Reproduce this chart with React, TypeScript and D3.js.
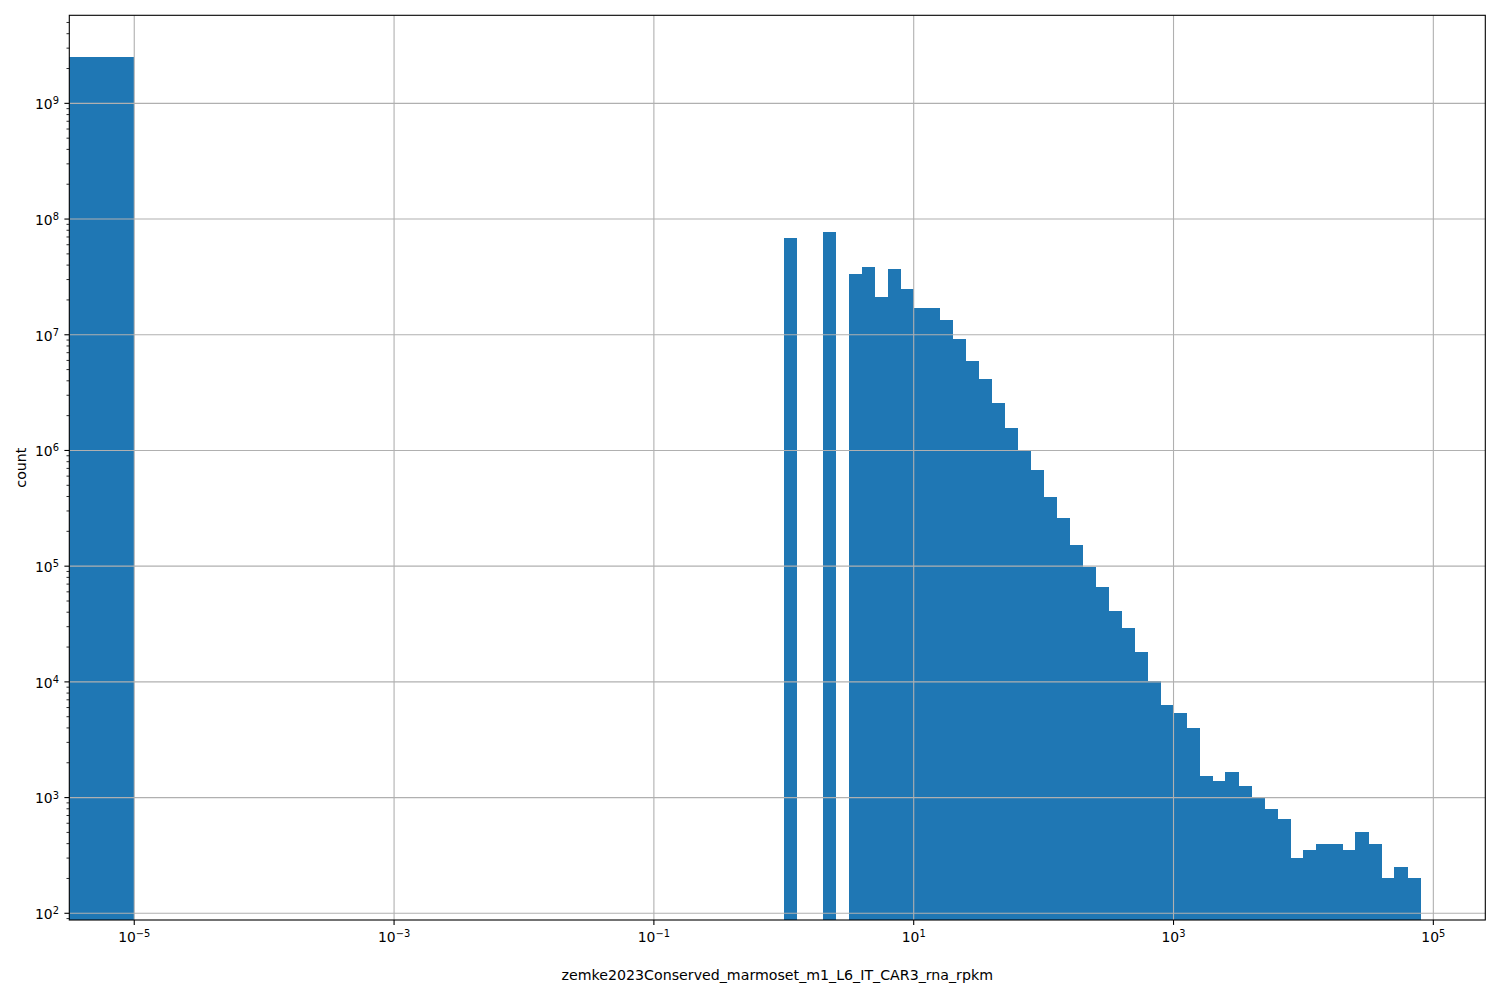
import React from "react";
import * as d3 from "d3";

// ---- data ----
const zeroBinUpper = 1e-5;
const zeroBinCount = 2.54e9;
const binLogWidth = 0.1;
const binLogLeft = [
  0.0, 0.3,
  0.5, 0.6, 0.7, 0.8, 0.9,
  1.0, 1.1, 1.2, 1.3, 1.4, 1.5, 1.6, 1.7, 1.8, 1.9,
  2.0, 2.1, 2.2, 2.3, 2.4, 2.5, 2.6, 2.7, 2.8, 2.9,
  3.0, 3.1, 3.2, 3.3, 3.4, 3.5, 3.6, 3.7, 3.8, 3.9,
  4.0, 4.1, 4.2, 4.3, 4.4, 4.5, 4.6, 4.7, 4.8,
];
const binCounts = [
  6.86e7, 7.73e7,
  3.35e7, 3.85e7, 2.12e7, 3.7e7, 2.48e7,
  1.7e7, 1.7e7, 1.34e7, 9.18e6, 5.93e6, 4.15e6, 2.57e6, 1.56e6, 9.95e5, 6.78e5,
  3.96e5, 2.61e5, 1.52e5, 9.9e4, 6.61e4, 4.1e4, 2.92e4, 1.81e4, 1.02e4, 6.31e3,
  5.38e3, 3.99e3, 1.54e3, 1.39e3, 1.66e3, 1.26e3, 990, 800, 650, 300,
  350, 400, 400, 350, 500, 400, 200, 250, 200,
];
const xTickExponents = [-5, -3, -1, 1, 3, 5];
const yTickExponents = [2, 3, 4, 5, 6, 7, 8, 9];
const xLabel = "zemke2023Conserved_marmoset_m1_L6_IT_CAR3_rna_rpkm";
const yLabel = "count";

// ---- layout ----
const W = 1500;
const H = 1000;
const L = 69.3;
const R = 1485.3;
const T = 15.3;
const B = 920;
const FONT = "DejaVu Sans, sans-serif";
const FS = 13.9;
const LFS = 14.2;
const BLUE = "#1f77b4";
const GRID = "#b0b0b0";

const x = d3.scaleLog().domain([Math.pow(10, -5.5), Math.pow(10, 5.4)]).range([L, R]);
const y = d3.scaleLog().domain([Math.pow(10, 1.942), Math.pow(10, 9.761)]).range([B, T]);

function Pow10({ e }: { e: number }) {
  const s = e < 0 ? "\u2212" + Math.abs(e) : String(e);
  return (
    <>
      10
      <tspan dy="-0.5em" fontSize="71%">{s}</tspan>
    </>
  );
}

export default function App() {
  const [yLo, yHi] = y.domain();
  const yMinor: number[] = [];
  for (let k = 1; k <= 10; k++) {
    for (let m = 2; m <= 9; m++) {
      const v = m * Math.pow(10, k);
      if (v >= yLo && v <= yHi) yMinor.push(v);
    }
  }
  const base = y(yLo);
  return (
    <div style={{ position: "absolute", left: 0, top: 0 }}>
      <svg width={W} height={H} style={{ display: "block", background: "#fff" }} fontFamily={FONT}>
        <defs>
          <clipPath id="axclip">
            <rect x={L} y={T} width={R - L} height={B - T} />
          </clipPath>
        </defs>
        <rect x={0} y={0} width={W} height={H} fill="#fff" />
        <g clipPath="url(#axclip)" shapeRendering="crispEdges">
          <rect
            x={L - 5}
            y={y(zeroBinCount)}
            width={x(zeroBinUpper) - L + 5}
            height={base - y(zeroBinCount) + 5}
            fill={BLUE}
          />
          {binLogLeft.map((lg, i) => {
            const x0 = x(Math.pow(10, lg));
            const x1 = x(Math.pow(10, lg + binLogWidth));
            const yt = y(binCounts[i]);
            return (
              <rect key={i} x={x0} y={yt} width={x1 - x0 + 0.4} height={base - yt + 5} fill={BLUE} />
            );
          })}
        </g>
        {/* grid */}
        <g stroke={GRID} strokeWidth={1.1}>
          {xTickExponents.map((e) => (
            <line key={"gx" + e} x1={x(Math.pow(10, e))} x2={x(Math.pow(10, e))} y1={T} y2={B} />
          ))}
          {yTickExponents.map((e) => (
            <line key={"gy" + e} x1={L} x2={R} y1={y(Math.pow(10, e))} y2={y(Math.pow(10, e))} />
          ))}
        </g>
        {/* spines */}
        <rect x={L} y={T} width={R - L} height={B - T} fill="none" stroke="#000" strokeWidth={1.1} />
        {/* x ticks */}
        <g>
          {xTickExponents.map((e) => {
            const px = x(Math.pow(10, e));
            return (
              <g key={"tx" + e}>
                <line x1={px} x2={px} y1={B} y2={B + 4.9} stroke="#000" strokeWidth={1.1} />
                <text x={px} y={942} textAnchor="middle" fontSize={FS} fill="#000">
                  <Pow10 e={e} />
                </text>
              </g>
            );
          })}
        </g>
        {/* y ticks */}
        <g>
          {yMinor.map((v, i) => (
            <line key={"my" + i} x1={L - 2.8} x2={L} y1={y(v)} y2={y(v)} stroke="#000" strokeWidth={0.83} />
          ))}
          {yTickExponents.map((e) => {
            const py = y(Math.pow(10, e));
            return (
              <g key={"ty" + e}>
                <line x1={L - 4.9} x2={L} y1={py} y2={py} stroke="#000" strokeWidth={1.1} />
                <text x={59} y={py + 5.9} textAnchor="end" fontSize={FS} fill="#000">
                  <Pow10 e={e} />
                </text>
              </g>
            );
          })}
        </g>
        <text x={(L + R) / 2} y={980} textAnchor="middle" fontSize={LFS} fill="#000">
          {xLabel}
        </text>
        <text
          transform={`translate(26, ${(T + B) / 2}) rotate(-90)`}
          textAnchor="middle"
          fontSize={LFS}
          fill="#000"
        >
          {yLabel}
        </text>
      </svg>
    </div>
  );
}
